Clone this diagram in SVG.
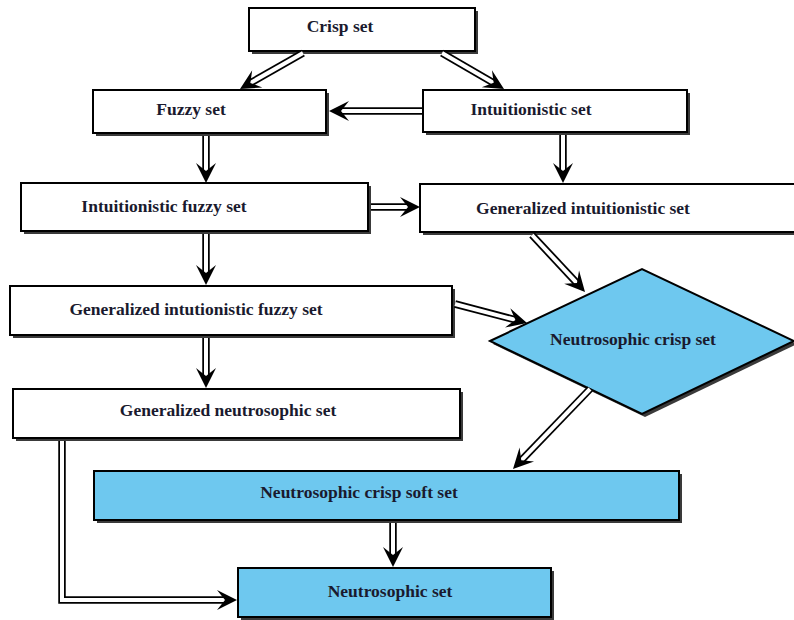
<svg xmlns="http://www.w3.org/2000/svg" xmlns:xlink="http://www.w3.org/1999/xlink" width="794" height="620" viewBox="0 0 794 620">
<style>
.sh{fill:#3a3a3a}
.bx{fill:#ffffff;stroke:#000;stroke-width:2}
.bl{fill:#6ec8ef;stroke:#000;stroke-width:2}
.t{font-family:"Liberation Serif","Times New Roman",serif;font-weight:bold;font-size:17.5px;fill:#1a1a2e;text-anchor:middle}
.o{fill:none;stroke:#000;stroke-width:7.5;stroke-linejoin:miter}
.i{fill:none;stroke:#fff;stroke-width:4;stroke-linejoin:miter}
</style>
<defs>
<path id="ah" d="M0,0 L-20,-10 L-12,0 L-20,10 Z" fill="#000"/>
</defs>
<rect width="794" height="620" fill="#fff"/>
<g id="crisp"><rect class="sh" x="252" y="11" width="226" height="43"/><rect class="bx" x="249" y="8" width="226" height="43"/><text class="t" x="340" y="32">Crisp set</text></g>
<g id="fuzzy"><rect class="sh" x="96" y="93" width="233" height="43"/><rect class="bx" x="93" y="90" width="233" height="43"/><text class="t" x="191" y="115">Fuzzy set</text></g>
<g id="intu"><rect class="sh" x="426" y="93" width="264" height="42"/><rect class="bx" x="423" y="90" width="264" height="42"/><text class="t" x="531" y="115">Intuitionistic set</text></g>
<g id="ifs"><rect class="sh" x="24" y="186" width="347" height="48"/><rect class="bx" x="21" y="183" width="347" height="48"/><text class="t" x="164" y="212">Intuitionistic fuzzy set</text></g>
<g id="gis"><rect class="sh" x="423" y="187" width="380" height="48"/><rect class="bx" x="420" y="184" width="380" height="48"/><text class="t" x="583" y="214">Generalized intuitionistic set</text></g>
<g id="gifs"><rect class="sh" x="13" y="289" width="442" height="49"/><rect class="bx" x="10" y="286" width="442" height="49"/><text class="t" x="196" y="315">Generalized intutionistic fuzzy set</text></g>
<g id="ncs"><polygon class="sh" points="493,344 645,272 797,344 645,417"/><polygon class="bl" points="490,341 642,269 794,341 642,414"/><text class="t" x="633" y="345">Neutrosophic crisp set</text></g>
<g id="gns"><rect class="sh" x="16" y="392" width="447" height="49"/><rect class="bx" x="13" y="389" width="447" height="49"/><text class="t" x="228" y="416">Generalized neutrosophic set</text></g>
<g id="ncss"><rect class="sh" x="97" y="474" width="585" height="49"/><rect class="bl" x="94" y="471" width="585" height="49"/><text class="t" x="359" y="498">Neutrosophic crisp soft set</text></g>
<g id="ns"><rect class="sh" x="241" y="571" width="313" height="49"/><rect class="bl" x="238" y="568" width="313" height="49"/><text class="t" x="390" y="597">Neutrosophic set</text></g>
<g id="connectors">
<path class="o" d="M303,53 L248.6,83.9"/><path class="i" d="M303,53 L248.6,83.9"/><use xlink:href="#ah" transform="translate(240,89) rotate(149.6)"/>
<path class="o" d="M442,53 L495.4,83.9"/><path class="i" d="M442,53 L495.4,83.9"/><use xlink:href="#ah" transform="translate(504,89) rotate(30.8)"/>
<path class="o" d="M422,111 L339,111"/><path class="i" d="M422,111 L339,111"/><use xlink:href="#ah" transform="translate(329,111) rotate(180)"/>
<path class="o" d="M206,136 L206,173"/><path class="i" d="M206,136 L206,173"/><use xlink:href="#ah" transform="translate(206,183) rotate(90)"/>
<path class="o" d="M563,135 L563,173"/><path class="i" d="M563,135 L563,173"/><use xlink:href="#ah" transform="translate(563,183) rotate(90)"/>
<path class="o" d="M371,207 L410,207"/><path class="i" d="M371,207 L410,207"/><use xlink:href="#ah" transform="translate(420,207) rotate(0)"/>
<path class="o" d="M206,234 L206,275"/><path class="i" d="M206,234 L206,275"/><use xlink:href="#ah" transform="translate(206,285) rotate(90)"/>
<path class="o" d="M532,235 L578.3,284.6"/><path class="i" d="M532,235 L578.3,284.6"/><use xlink:href="#ah" transform="translate(585,292) rotate(48)"/>
<path class="o" d="M455,304 L517.4,320.4"/><path class="i" d="M455,304 L517.4,320.4"/><use xlink:href="#ah" transform="translate(527,323) rotate(15)"/>
<path class="o" d="M206,338 L206,378"/><path class="i" d="M206,338 L206,378"/><use xlink:href="#ah" transform="translate(206,388) rotate(90)"/>
<path class="o" d="M590,389 L519.9,461.8"/><path class="i" d="M590,389 L519.9,461.8"/><use xlink:href="#ah" transform="translate(513,469) rotate(133.6)"/>
<path class="o" d="M393,523 L393,557"/><path class="i" d="M393,523 L393,557"/><use xlink:href="#ah" transform="translate(393,567) rotate(90)"/>
<path class="o" d="M62,441 L62,600 L227,600"/><path class="i" d="M62,441 L62,600 L227,600"/><use xlink:href="#ah" transform="translate(237,600) rotate(0)"/>
</g>
</svg>
